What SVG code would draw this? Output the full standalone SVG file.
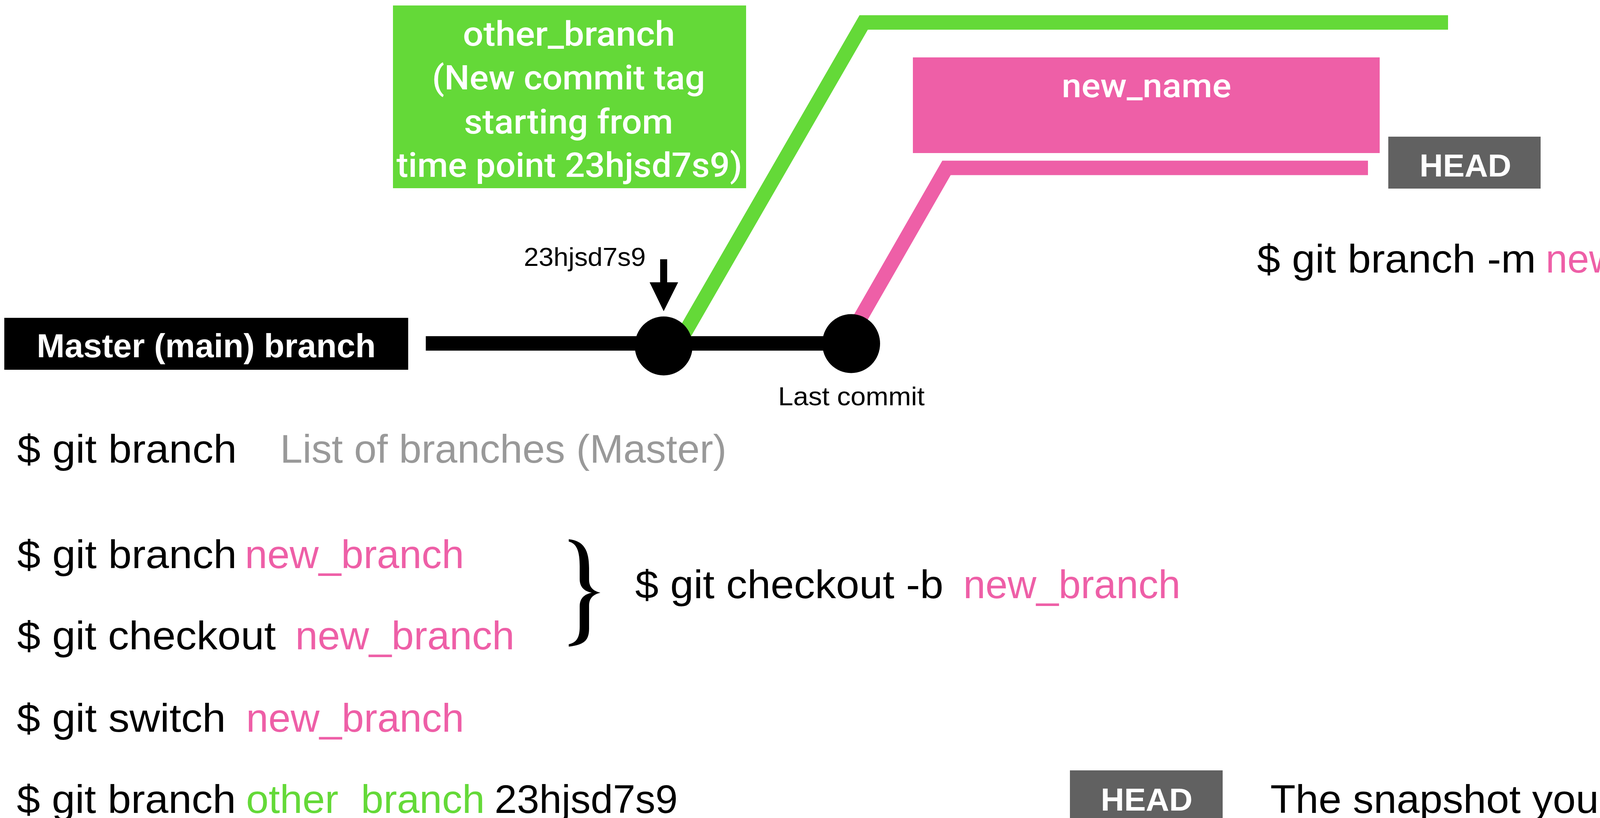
<svg xmlns="http://www.w3.org/2000/svg" width="4723" height="2095" viewBox="0 0 4723 2095">
<style>
  .t { font-family: "Liberation Sans", Arial, sans-serif; }
  .cmd { font-size: 102px; fill: #000000; }
  .pink { fill: #EE5FA7; }
  .green { fill: #64D938; }
  .gray { fill: #999999; }
  .lbl { font-family: Roboto, "Liberation Sans", Arial, sans-serif; font-weight: 500; fill: #ffffff; }
  .bold { font-weight: bold; fill: #ffffff; }
  .small { font-size: 67px; fill: #000000; }
  .conn { fill: none; stroke-width: 37; stroke-linejoin: miter; stroke-linecap: butt; }
</style>
<rect width="4723" height="2095" fill="#ffffff"/>

<g id="connectors">
  <polyline class="conn" stroke="#64D938" points="1737,880 2211,57.5 3707,57.5"/>
  <polyline class="conn" stroke="#EE5FA7" points="2165,880 2423,430 3502,430"/>
  <line x1="1090" y1="879.5" x2="2179" y2="879.5" stroke="#000000" stroke-width="37"/>
  <rect x="1690" y="664" width="18" height="61" fill="#000000"/>
  <polygon points="1663,723 1736,723 1699,797" fill="#000000"/>
</g>

<g id="commit-23hjsd7s9">
  <ellipse cx="1699" cy="886" rx="74" ry="75.5" fill="#000000"/>
  <text class="t small" x="1341" y="681" textLength="312" lengthAdjust="spacingAndGlyphs">23hjsd7s9</text>
</g>

<g id="commit-last">
  <ellipse cx="2179" cy="880" rx="74" ry="75.5" fill="#000000"/>
  <text class="t small" x="1992" y="1038" textLength="375" lengthAdjust="spacingAndGlyphs">Last commit</text>
</g>

<g id="master-branch">
  <rect x="11" y="814" width="1034" height="133" fill="#000000"/>
  <text class="t bold" font-size="86" x="94" y="915" textLength="868" lengthAdjust="spacingAndGlyphs">Master (main) branch</text>
</g>

<g id="other-branch">
  <rect x="1006" y="14" width="904" height="468" fill="#64D938"/>
  <text class="lbl" font-size="88" x="1185" y="117" textLength="543" lengthAdjust="spacingAndGlyphs">other_branch</text>
  <text class="lbl" font-size="88" x="1106" y="229" textLength="699" lengthAdjust="spacingAndGlyphs">(New commit tag</text>
  <text class="lbl" font-size="88" x="1188" y="342" textLength="535" lengthAdjust="spacingAndGlyphs">starting from</text>
  <text class="lbl" font-size="88" x="1015" y="453" textLength="885" lengthAdjust="spacingAndGlyphs">time point 23hjsd7s9)</text>
</g>

<g id="new-name">
  <rect x="2337" y="147" width="1195" height="245" fill="#EE5FA7"/>
  <text class="lbl" font-size="86" x="2718" y="249" textLength="434" lengthAdjust="spacingAndGlyphs">new_name</text>
</g>

<g id="head-top">
  <rect x="3554" y="350" width="390" height="133" fill="#616161"/>
  <text class="t bold" font-size="82" x="3634" y="452" textLength="235" lengthAdjust="spacingAndGlyphs">HEAD</text>
</g>

<g id="cmd-rename">
  <text class="t cmd" x="3218" y="698" textLength="714" lengthAdjust="spacingAndGlyphs">$ git branch -m</text>
  <text class="t cmd pink" x="3957" y="698" textLength="489" lengthAdjust="spacingAndGlyphs">new_name</text>
</g>

<g id="cmd-list">
  <text class="t cmd" x="44" y="1185" textLength="562" lengthAdjust="spacingAndGlyphs">$ git branch</text>
  <text class="t cmd gray" x="717" y="1185" textLength="1143" lengthAdjust="spacingAndGlyphs">List of branches (Master)</text>
</g>

<g id="cmd-branch-new">
  <text class="t cmd" x="44" y="1455" textLength="562" lengthAdjust="spacingAndGlyphs">$ git branch</text>
  <text class="t cmd pink" x="627" y="1455" textLength="561" lengthAdjust="spacingAndGlyphs">new_branch</text>
</g>

<g id="cmd-checkout">
  <text class="t cmd" x="44" y="1663" textLength="662" lengthAdjust="spacingAndGlyphs">$ git checkout</text>
  <text class="t cmd pink" x="756" y="1663" textLength="561" lengthAdjust="spacingAndGlyphs">new_branch</text>
</g>

<g id="brace">
  <path d="M1456,1381 C1495,1385 1508,1410 1508,1455 L1508,1485 C1508,1505 1520,1514 1537,1518 C1520,1522 1508,1531 1508,1551 L1508,1610 C1508,1640 1495,1652 1456,1656 L1456,1650 C1478,1645 1484,1630 1484,1605 L1484,1553 C1484,1533 1495,1522 1515,1518 C1495,1514 1484,1503 1484,1483 L1484,1450 C1484,1415 1478,1392 1456,1387 Z" fill="#000000"/>
</g>

<g id="cmd-checkout-b">
  <text class="t cmd" x="1626" y="1532" textLength="789" lengthAdjust="spacingAndGlyphs">$ git checkout -b</text>
  <text class="t cmd pink" x="2466" y="1532" textLength="556" lengthAdjust="spacingAndGlyphs">new_branch</text>
</g>

<g id="cmd-switch">
  <text class="t cmd" x="43" y="1874" textLength="535" lengthAdjust="spacingAndGlyphs">$ git switch</text>
  <text class="t cmd pink" x="630" y="1874" textLength="558" lengthAdjust="spacingAndGlyphs">new_branch</text>
</g>

<g id="cmd-branch-other">
  <text class="t cmd" x="43" y="2082" textLength="561" lengthAdjust="spacingAndGlyphs">$ git branch</text>
  <text class="t cmd green" x="630" y="2082" textLength="611" lengthAdjust="spacingAndGlyphs">other_branch</text>
  <text class="t cmd" x="1266" y="2082" textLength="469" lengthAdjust="spacingAndGlyphs">23hjsd7s9</text>
</g>

<g id="head-legend">
  <rect x="2739" y="1973" width="391" height="130" fill="#616161"/>
  <text class="t bold" font-size="82" x="2818" y="2076" textLength="235" lengthAdjust="spacingAndGlyphs">HEAD</text>
  <text class="t cmd" x="3252" y="2082" textLength="1405" lengthAdjust="spacingAndGlyphs">The snapshot you are viewing</text>
</g>
</svg>
